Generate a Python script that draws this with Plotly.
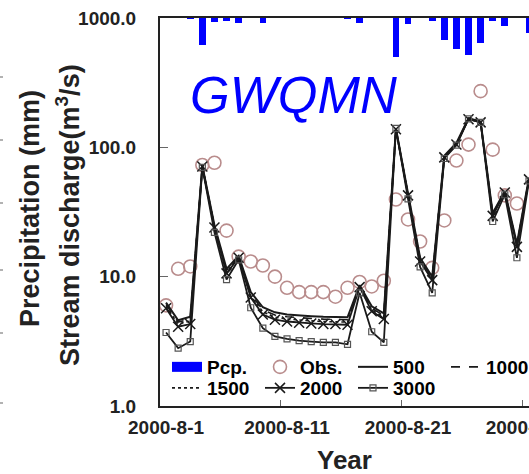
import plotly.graph_objects as go

# ---- data -------------------------------------------------------------
dates = [f"2000-8-{d}" for d in range(1, 32)]

# daily precipitation (mm), plotted downward from the top edge
pcp = [0, 0, 0.5, 17.4, 2.6, 1.9, 3.2, 0, 3.2, 0,
       0, 0, 0, 0, 0, 0.5, 3.2, 0, 0, 25.1,
       3.9, 0, 1.9, 14.2, 20.0, 23.8, 16.1, 1.9, 5.2, 0, 9.7]

# observed stream discharge (m3/s)
obs = [6.0, 11.5, 12.0, 73, 76, 22.7, 14.3, 13.1, 12.2, 10.0,
       8.2, 7.6, 7.6, 7.6, 7.0, 8.2, 9.1, 8.4, 9.3, 39.5,
       27.7, 18.7, 11.7, 27.2, 79, 105, 272, 96, 42.5, 36.8, None]

# simulated discharge for different GWQMN values
sim_500 = [6.3, 4.6, 4.9, 72, 25, 11.5, 14.5, 7.6, 5.8, 5.3,
           5.1, 5.0, 4.95, 4.9, 4.9, 4.85, 8.6, 5.9, 5.2, 140,
           44, 14.0, 10.0, 86, 108, 168, 158, 31, 46, 18, 58]
sim_1000 = [6.1, 4.45, 4.7, 72, 24.5, 11.2, 14.3, 7.3, 5.55, 5.05,
            4.9, 4.8, 4.75, 4.7, 4.7, 4.65, 8.5, 5.7, 5.0, 139,
            43.5, 13.7, 9.8, 85, 107, 167, 157, 30.5, 45.5, 17.6, 57.5]
sim_1500 = [5.9, 4.3, 4.55, 71, 24, 10.9, 14.1, 7.1, 5.35, 4.85,
            4.7, 4.6, 4.55, 4.5, 4.5, 4.45, 8.4, 5.55, 4.85, 138,
            43, 13.4, 9.6, 84, 106, 166, 156, 30, 45, 17.3, 57]
sim_2000 = [5.7, 4.1, 4.3, 71, 24, 10.6, 14.0, 6.9, 5.1, 4.65,
            4.5, 4.4, 4.35, 4.3, 4.3, 4.25, 8.3, 5.4, 4.7, 138,
            42.5, 13.1, 9.4, 83.6, 105, 165, 156, 29.5, 44.8, 17.0, 56.5]
sim_3000 = [3.7, 2.8, 3.15, 70, 22, 9.5, 13.5, 5.75, 4.0, 3.45,
            3.3, 3.2, 3.15, 3.1, 3.1, 3.0, 7.5, 3.75, 3.1, 140,
            40, 11.9, 7.5, 82, 104, 166, 156, 26.7, 43, 14.0, 55]

y_ticks = [1, 10, 100, 1000]
y_tick_text = ["1.0", "10.0", "100.0", "1000.0"]
x_tick_every = 10

# ---- geometry ---------------------------------------------------------
W, H = 529, 474
L, R, T, B = 160, 529, 18, 406
PW, PH = R - L, B - T


def px(x):
    return (x - L) / PW


def py(y):
    return (B - y) / PH


FONT = "Liberation Sans, Arial, sans-serif"
LINE = "#1a1a1a"
MARK = "#555555"
OBS = "#b98c8c"

fig = go.Figure()

# precipitation bars hanging from the top
fig.add_trace(go.Bar(x=dates, y=pcp, yaxis="y2", marker_color="#0000ff",
                     marker_line_width=0, width=0.55, showlegend=False))

# legend proxy for the precipitation bars
fig.add_trace(go.Scatter(x=[None], y=[None], mode="lines", name="Pcp.",
                         line=dict(color="#0000ff", width=12), legend="legend"))

fig.add_trace(go.Scatter(x=dates, y=obs, mode="markers", name="Obs.",
                         marker=dict(symbol="circle-open", size=13, color=OBS,
                                     line=dict(width=1.6, color=OBS)),
                         legend="legend"))

fig.add_trace(go.Scatter(x=dates, y=sim_500, mode="lines", name="500",
                         line=dict(color=LINE, width=2), legend="legend"))
fig.add_trace(go.Scatter(x=dates, y=sim_1000, mode="lines", name="1000",
                         line=dict(color=LINE, width=1.6, dash="dash"),
                         legend="legend", legendwidth=38))
fig.add_trace(go.Scatter(x=dates, y=sim_1500, mode="lines", name="1500",
                         line=dict(color=LINE, width=1.6, dash="dot"),
                         legend="legend2"))
fig.add_trace(go.Scatter(x=dates, y=sim_2000, mode="lines+markers", name="2000",
                         line=dict(color=LINE, width=1.8),
                         marker=dict(symbol="x-thin-open", size=10,
                                     line=dict(width=1.5, color=MARK)),
                         legend="legend2"))
fig.add_trace(go.Scatter(x=dates, y=sim_3000, mode="lines+markers", name="3000",
                         line=dict(color=LINE, width=1.8),
                         marker=dict(symbol="square-open", size=6, color=MARK,
                                     line=dict(width=1.2, color=MARK)),
                         legend="legend2"))

legend_common = dict(orientation="h", xanchor="left", yanchor="middle",
                     bgcolor="rgba(0,0,0,0)", borderwidth=0, entrywidth=48,
                     font=dict(family=FONT, size=19, color="black", weight="bold"),
                     traceorder="normal")

fig.update_layout(
    width=W, height=H,
    margin=dict(l=L, r=W - R, t=T, b=H - B, pad=0),
    paper_bgcolor="white", plot_bgcolor="white",
    showlegend=True,
    legend=dict(x=px(167), y=py(367), **legend_common),
    legend2=dict(x=px(167), y=py(388), **legend_common),
    xaxis=dict(
        type="category", categoryorder="array", categoryarray=dates,
        range=[-0.5, 30.0], tickmode="linear", tick0=0, dtick=x_tick_every,
        tickson="boundaries", ticks="inside", ticklen=6, tickwidth=1,
        tickcolor="#666", showline=True, linecolor="#222", linewidth=2,
        mirror=True, showgrid=False, zeroline=False, automargin=False,
        tickangle=0,
        tickfont=dict(family=FONT, size=19, color="#222", weight="bold"),
        ticklabelstandoff=3,
    ),
    yaxis=dict(
        type="log", range=[0, 3], tickmode="array", tickvals=y_ticks,
        ticktext=y_tick_text, ticks="inside", ticklen=8, tickwidth=1,
        tickcolor="#666", showline=True, linecolor="#222", linewidth=2,
        showgrid=False, zeroline=False, automargin=False,
        tickfont=dict(family=FONT, size=19, color="#222", weight="bold"),
        ticklabelstandoff=18,
    ),
    yaxis2=dict(overlaying="y", range=[250, 0], visible=False,
                showgrid=False, zeroline=False),
    bargap=0,
)

annotations = [
    dict(text="GWQMN", x=px(188), y=py(96), xref="paper", yref="paper",
         xanchor="left", yanchor="middle", showarrow=False,
         font=dict(family=FONT, size=51, color="#0000ff", style="italic")),
    dict(text="Precipitation (mm)", x=px(30), y=py(209), xref="paper",
         yref="paper", textangle=-90, showarrow=False,
         xanchor="center", yanchor="middle",
         font=dict(family=FONT, size=27, color="#222", weight="bold")),
    dict(text="Stream discharge(m<sup>3</sup>/s)", x=px(68), y=py(215),
         xref="paper", yref="paper", textangle=-90, showarrow=False,
         xanchor="center", yanchor="middle",
         font=dict(family=FONT, size=27, color="#222", weight="bold")),
    dict(text="Year", x=0.5, y=py(460), xref="paper", yref="paper",
         showarrow=False, xanchor="center", yanchor="middle",
         font=dict(family=FONT, size=26, color="#222", weight="bold")),
]
fig.update_layout(annotations=annotations)

# tick stubs of the neighbouring panel along the left edge
shapes = []
for yy in (77, 140, 203, 270, 333, 403):
    shapes.append(dict(type="line", xref="paper", yref="paper",
                       x0=px(0), x1=px(3), y0=py(yy), y1=py(yy),
                       line=dict(color="#999", width=1.5)))
fig.update_layout(shapes=shapes)

fig.write_html("out.html")
